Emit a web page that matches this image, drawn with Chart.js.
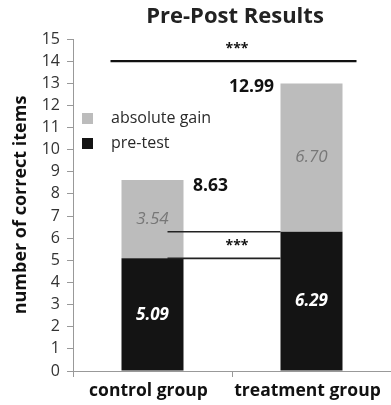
<!DOCTYPE html>
<html>
<head>
<meta charset="utf-8">
<script src="https://cdn.jsdelivr.net/npm/chart.js@4/dist/chart.umd.min.js"></script>
<style>
html,body{margin:0;padding:0;background:#fff;}
#wrap{width:391px;height:405px;}
</style>
</head>
<body>
<div id="wrap"><canvas id="c" width="391" height="405"></canvas></div>
<script>
const categories = ['control group', 'treatment group'];
const preTest = [5.09, 6.29];
const absoluteGain = [3.54, 6.70];
const totals = [8.63, 12.99];
const yTicksMax = 15;
const chartTitle = 'Pre-Post Results';
const yTitle = 'number of correct items';
const overallSig = '***';
const preSig = '***';
const overallSigLevel = 14;

const FONT = "'Open Sans', 'DejaVu Sans', sans-serif";
const BLACK = '#141414';
const GRAY = '#bcbcbc';

const annot = {
  id: 'annot',
  afterDatasetsDraw(chart) {
    const ctx = chart.ctx;
    const y = chart.scales.y;
    const metaPre = chart.getDatasetMeta(0);
    ctx.save();
    // title
    ctx.fillStyle = '#222';
    ctx.font = 'bold 22px ' + FONT;
    ctx.textAlign = 'center';
    ctx.textBaseline = 'middle';
    ctx.fillText(chartTitle, 235, 17);

    // legend
    ctx.font = '16px ' + FONT;
    ctx.textAlign = 'left';
    const legendItems = [[chart.data.datasets[1].label, GRAY], [chart.data.datasets[0].label, BLACK]];
    legendItems.forEach((it, i) => {
      const cy = 118 + i * 25;
      ctx.fillStyle = it[1];
      ctx.fillRect(82, cy - 5, 11, 11);
      ctx.fillStyle = '#2a2a2a';
      ctx.fillText(it[0], 111, cy);
    });

    // segment labels
    ctx.textAlign = 'center';
    categories.forEach((c, i) => {
      const cx = metaPre.data[i].x;
      ctx.font = 'italic bold 17px ' + FONT;
      ctx.fillStyle = '#fff';
      ctx.fillText(preTest[i].toFixed(2), cx, y.getPixelForValue(preTest[i] / 2));
      ctx.font = 'italic 17px ' + FONT;
      ctx.fillStyle = '#777';
      ctx.fillText(absoluteGain[i].toFixed(2), cx, y.getPixelForValue(preTest[i] + absoluteGain[i] / 2));
    });

    // totals
    ctx.font = 'bold 17.5px ' + FONT;
    ctx.fillStyle = '#111';
    const b0 = metaPre.data[0], b1 = metaPre.data[1];
    const hw0 = b0.width / 2, hw1 = b1.width / 2;
    ctx.fillText(totals[0].toFixed(2), b0.x + hw0 + 27, y.getPixelForValue(totals[0]) + 6);
    ctx.fillText(totals[1].toFixed(2), b1.x - hw1 - 29, y.getPixelForValue(totals[1]) + 4);

    // overall significance line
    const ly = y.getPixelForValue(overallSigLevel);
    ctx.strokeStyle = '#111';
    ctx.lineWidth = 2.2;
    ctx.beginPath();
    ctx.moveTo(b0.x - 42, ly);
    ctx.lineTo(b1.x + 45, ly);
    ctx.stroke();
    ctx.font = 'bold 14px ' + FONT;
    ctx.fillText(overallSig, 237, ly - 12);

    // pre-test comparison lines
    ctx.lineWidth = 1.6;
    ctx.strokeStyle = '#222';
    const lx0 = b0.x + hw0 - 16, lx1 = b1.x - hw1;
    preTest.forEach(v => {
      const py = y.getPixelForValue(v);
      ctx.beginPath();
      ctx.moveTo(lx0, py);
      ctx.lineTo(lx1, py);
      ctx.stroke();
    });
    const midY = (y.getPixelForValue(preTest[0]) + y.getPixelForValue(preTest[1])) / 2;
    ctx.fillText(preSig, 237, midY + 1);
    ctx.restore();
  }
};

new Chart(document.getElementById('c'), {
  type: 'bar',
  data: {
    labels: categories,
    datasets: [
      { label: 'pre-test', data: preTest, backgroundColor: BLACK, borderWidth: 0 },
      { label: 'absolute gain', data: absoluteGain, backgroundColor: GRAY, borderWidth: 0 }
    ]
  },
  options: {
    responsive: false,
    animation: false,
    devicePixelRatio: 1,
    layout: { padding: { top: 39, left: 0, right: 0, bottom: 0 } },
    plugins: { legend: { display: false }, title: { display: false }, tooltip: { enabled: false } },
    datasets: { bar: { categoryPercentage: 1, barPercentage: 0.39 } },
    scales: {
      x: {
        stacked: true,
        afterFit(s) { s.height = 34; },
        grid: { display: true, drawOnChartArea: false, drawTicks: true, tickLength: 6, color: '#999', offset: true },
        border: { display: true, color: '#999', width: 1 },
        ticks: { color: '#111', font: { family: FONT, size: 17.5, weight: 'bold' }, padding: 4, labelOffset: -4 }
      },
      y: {
        stacked: true,
        min: 0, max: yTicksMax,
        afterFit(s) { s.width = 73; },
        grid: { display: true, drawOnChartArea: false, drawTicks: true, tickLength: 6, color: '#999' },
        border: { display: true, color: '#999', width: 1 },
        ticks: { stepSize: 1, autoSkip: false, color: '#333', font: { family: FONT, size: 16 }, padding: 7 },
        title: { display: true, text: yTitle, color: '#111', font: { family: FONT, size: 18, weight: 'bold' }, padding: { top: 10, bottom: 0 } }
      }
    }
  },
  plugins: [annot]
});
</script>
</body>
</html>
